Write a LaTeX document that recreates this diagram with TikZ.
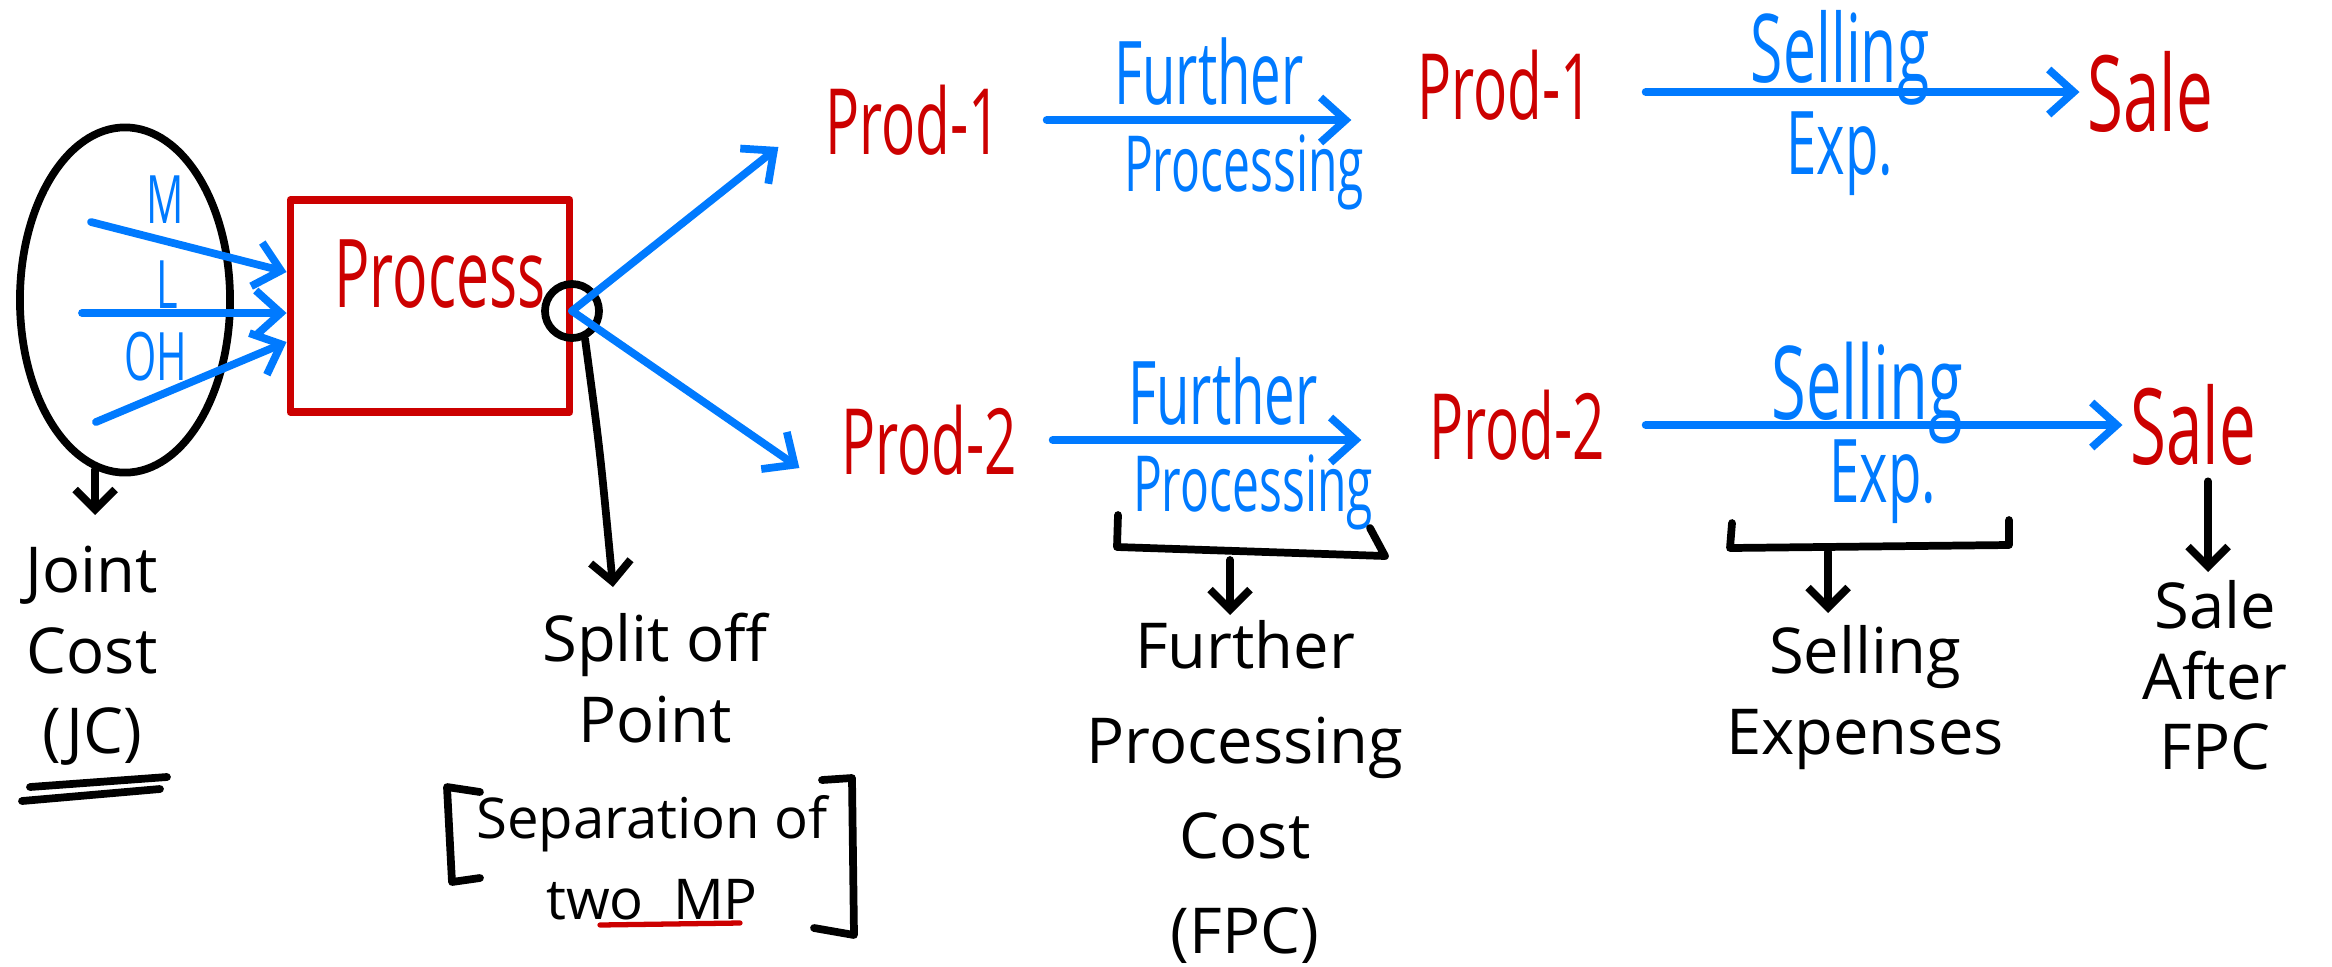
\documentclass[tikz,border=0pt]{standalone}
\usepackage{fontspec}
\setmainfont{Open Sans}
\newfontfamily\tallfont{Open Sans}[FakeStretch=0.62]
\usetikzlibrary{calc,arrows.meta,shapes.geometric}
\definecolor{inkred}{RGB}{204,0,0}
\definecolor{inkblue}{RGB}{0,122,255}

\begin{document}
\begin{tikzpicture}[x=0.01cm,y=-0.01cm,line cap=round,line join=round,
    pen/.style={line width=2.2pt},
    flow/.style={pen,inkblue,-{Straight Barb[length=2.5mm,width=4.5mm]}},
    note/.style={pen,black,-{Straight Barb[length=2mm,width=4mm]}},
    prod/.style={inkred,font=\tallfont\fontsize{#1}{#1}\selectfont,inner sep=2pt},
    cost/.style={inkblue,font=\tallfont\fontsize{#1}{#1}\selectfont,inner sep=3pt},
    remark/.style={align=center,font=\fontsize{18}{23}\selectfont,inner sep=0pt}]
  \useasboundingbox (0,0) rectangle (2332,966);

  % inputs into the process
  \node[ellipse,draw,pen,minimum width=2.1cm,minimum height=3.45cm] (blob) at (125,300) {};
  \node[cost=19] (mlab) at (165,200) {M};
  \node[cost=19] (llab) at (167,285) {L};
  \node[cost=19] (olab) at (156,357) {OH};
  \coordinate (m0) at (91,222);
  \coordinate (l0) at (82,313);
  \coordinate (o0) at (96,422);
  \node[draw=inkred,pen,minimum width=2.79cm,minimum height=2.12cm] (proc) at (430,306) {};
  \node[prod=27] (proctxt) at (440,274) {Process};
  \draw[flow] (m0) -- ($(proc.west)+(0,-34)$);
  \draw[flow] (l0) -- ($(proc.west)+(0,7)$);
  \draw[flow] (o0) -- ($(proc.west)+(0,36)$);

  % split off point and the two products
  \node[circle,draw,pen,minimum size=0.54cm,inner sep=0pt] (split) at (572,311) {};
  \node[prod=26] (p1a) at (913,120) {Prod-1};
  \node[prod=26] (p2a) at (929,440) {Prod-2};
  \node[prod=26] (p1b) at (1505,85) {Prod-1};
  \node[prod=26] (p2b) at (1517,425) {Prod-2};
  \node[prod=30] (sale1) at (2150,92) {Sale};
  \node[prod=30] (sale2) at (2193,425) {Sale};
  \draw[flow] (split.center) -- ($(p1a.west)+(-39,27)$);
  \draw[flow] (split.center) -- ($(p2a.west)+(-34,28)$);

  \draw[flow,shorten <=0.38cm,shorten >=0.58cm] (p1a.east) -- (p1a.east -| p1b.west)
    node[midway,above,cost=25] {Further}
    node[midway,below,cost=22,xshift=0.35cm] {Processing};
  \draw[flow,shorten <=0.45cm] (sale1.west -| p1b.east) -- (sale1.west)
    node[midway,anchor=base,yshift=0.1cm,cost=27] {Selling}
    node[midway,below,cost=25,yshift=-0.05cm] {Exp.};
  \draw[flow,shorten <=0.28cm,shorten >=0.6cm] (p2a.east) -- (p2a.east -| p2b.west)
    node[midway,above,cost=25] {Further}
    node[midway,below,cost=22,xshift=0.3cm] {Processing};
  \draw[flow,shorten <=0.33cm] (sale2.west -| p2b.east) -- (sale2.west)
    node[midway,anchor=base,yshift=0.06cm,cost=29] {Selling}
    node[midway,below,cost=25,xshift=0.15cm] {Exp.};

  % what each part is called
  \node[remark,anchor=north] (jc) at (92,545) {Joint\\Cost\\(JC)};
  \draw[note,shorten >=0.3cm] (blob.260) -- (blob.260 |- jc.north);
  \draw[pen] (30,787) -- (167,777);
  \draw[pen] (22,801) -- (160,789);

  \node[remark,anchor=north] (sot) at (655,612) {Split off\\Point};
  \draw[note] (split.-65) .. controls (600,450) .. ($(sot.north)+(-42,-25)$);
  \node[remark,anchor=north,font=\fontsize{16}{23}\selectfont] (sep) at (652,795) {Separation of\\two~~MP};
  \draw[pen] (480,792) -- (447,787) -- (452,882) -- (480,878);
  \draw[pen] (822,780) -- (852,778) -- (854,935) -- (814,928);
  \draw[inkred,line width=1.5pt] (600,925) -- (740,923);

  \draw[pen] (1118,515) -- (1117,547) -- (1385,556) -- (1370,528);
  \coordinate (b1) at (1230,560);
  \node[remark,anchor=north,font=\fontsize{18}{27}\selectfont] (fpc) at (1245,620) {Further\\Processing\\Cost\\(FPC)};
  \draw[note,shorten >=0.05cm] (b1) -- (b1 |- fpc.north);

  \draw[pen] (1732,523) -- (1730,548) -- (2009,545) -- (2009,520);
  \coordinate (b2) at (1828,552);
  \node[remark,anchor=north] (sexp) at (1865,625) {Selling\\Expenses};
  \draw[note,shorten >=0.12cm] (b2) -- (b2 |- sexp.north);

  \coordinate (s2) at ($(sale2.south)+(15,8)$);
  \node[remark,anchor=north,font=\fontsize{18}{20}\selectfont] (safter) at (2215,580) {Sale\\After\\FPC};
  \draw[note,shorten >=0.08cm] (s2) -- (s2 |- safter.north);
\end{tikzpicture}
\end{document}
